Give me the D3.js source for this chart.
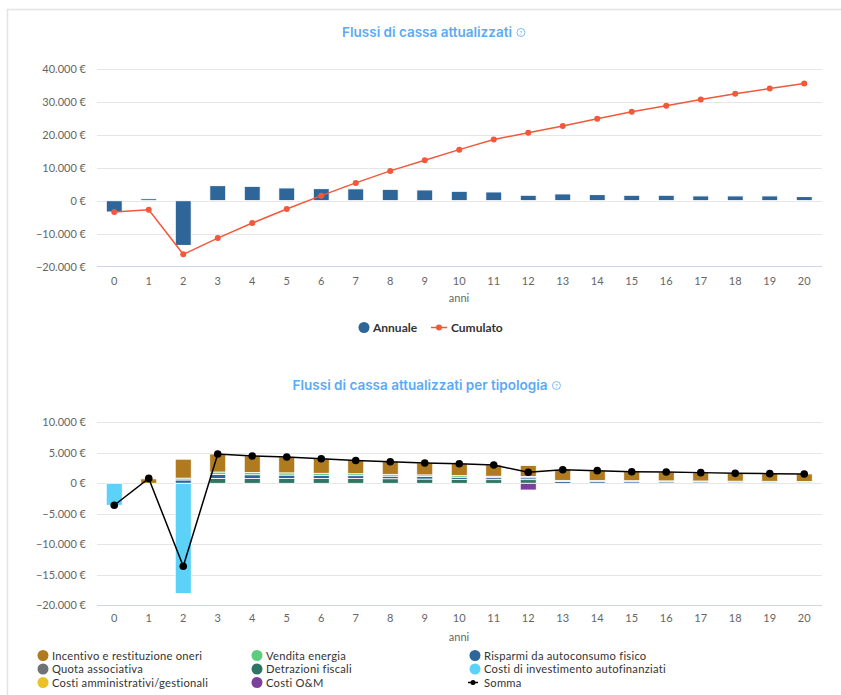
<!DOCTYPE html>
<html><head><meta charset="utf-8">
<script src="https://cdn.jsdelivr.net/npm/d3@7/dist/d3.min.js"></script>
<style>
html,body{margin:0;padding:0;background:#fff;}
svg{display:block;font-family:Lato,"Open Sans",sans-serif;}
</style></head>
<body>
<svg id="c" width="841" height="695"></svg>
<script>
// ---------- DATA ----------
const years = d3.range(0, 21).map(String);
const annuale  = [-3450, 600, -13600, 4570, 4360, 3870, 3660, 3600, 3450, 3260, 2850, 2650, 1650, 2050, 1850, 1650, 1650, 1450, 1450, 1450, 1250];
const cumulato = [-3450, -2750, -16300, -11370, -6800, -2530, 1520, 5400, 9050, 12300, 15500, 18600, 20600, 22700, 24900, 27000, 28850, 30700, 32500, 34050, 35600];

const incentivo   = [0, 720, 3100, 2950, 2700, 2600, 2400, 2200, 2100, 1950, 1950, 1850, 1800, 1750, 1600, 1470, 1450, 1370, 1280, 1250, 1220];
const vendita     = [0, 0, 300, 400, 380, 360, 340, 320, 300, 280, 260, 240, 220, 200, 190, 180, 170, 160, 150, 140, 130];
const risparmi    = [0, 0, 550, 650, 600, 550, 500, 450, 420, 400, 350, 320, 300, 280, 260, 250, 230, 220, 200, 190, 180];
const quota       = [0, 0, 0, 0, 0, 0, 0, 0, 0, 0, 0, 0, 0, 0, 0, 0, 0, 0, 0, 0, 0];
const detrazioni  = [0, 0, 0, 800, 800, 800, 800, 800, 750, 700, 650, 600, 600, 0, 0, 0, 0, 0, 0, 0, 0];
const costiInv    = [-3600, 0, -18050, 0, 0, 0, 0, 0, 0, 0, 0, 0, 0, 0, 0, 0, 0, 0, 0, 0, 0];
const costiAmm    = [0, 0, 0, 0, 0, 0, 0, 0, 0, 0, 0, 0, 0, 0, 0, 0, 0, 0, 0, 0, 0];
const costiOM     = [0, 0, 0, 0, 0, 0, 0, 0, 0, 0, 0, 0, -1100, 0, 0, 0, 0, 0, 0, 0, 0];
const somma       = [-3600, 800, -13600, 4800, 4470, 4300, 4030, 3750, 3540, 3330, 3210, 3000, 1800, 2230, 2070, 1900, 1850, 1750, 1630, 1580, 1530];

const topTicks = [-20000, -10000, 0, 10000, 20000, 30000, 40000];
const botTicks = [-20000, -15000, -10000, -5000, 0, 5000, 10000];

const title1 = "Flussi di cassa attualizzati";
const title2 = "Flussi di cassa attualizzati per tipologia";

const seriesDefs = [
  {key:"Incentivo e restituzione oneri", values: incentivo, color:"#b07a1e"},
  {key:"Vendita energia", values: vendita, color:"#5dcb80"},
  {key:"Risparmi da autoconsumo fisico", values: risparmi, color:"#2d6699"},
  {key:"Quota associativa", values: quota, color:"#6f7376"},
  {key:"Detrazioni fiscali", values: detrazioni, color:"#2f7563"},
  {key:"Costi di investimento autofinanziati", values: costiInv, color:"#5cd2f9"},
  {key:"Costi amministrativi/gestionali", values: costiAmm, color:"#e9c22a"},
  {key:"Costi O&M", values: costiOM, color:"#7b3f9c"}
];
const stackOrder = ["Detrazioni fiscali","Risparmi da autoconsumo fisico","Vendita energia","Quota associativa","Incentivo e restituzione oneri","Costi di investimento autofinanziati","Costi amministrativi/gestionali","Costi O&M"];

// ---------- HELPERS ----------
const svg = d3.select("#c");
const fmt = v => (v === 0 ? "0" : d3.format(",")(v).replace(/,/g, ".")) + " €";
const titleColor = "#5aaaf6";

svg.append("rect").attr("x", 7.5).attr("y", 9.5).attr("width", 900).attr("height", 700)
  .attr("fill", "none").attr("stroke", "#e3e3e3").attr("stroke-width", 1.5);

function title(text, cx, y) {
  const t = svg.append("text").attr("x", cx).attr("y", y).attr("text-anchor", "middle")
    .attr("font-family", "Inter, 'Noto Sans', sans-serif").attr("font-weight", 600)
    .attr("font-size", 13.5).attr("fill", titleColor).text(text);
  const w = t.node().getComputedTextLength();
  const ix = cx + w / 2 + 9;
  svg.append("circle").attr("cx", ix).attr("cy", y - 4.5).attr("r", 4)
    .attr("fill", "none").attr("stroke", titleColor).attr("stroke-width", 0.8);
  svg.append("text").attr("x", ix).attr("y", y - 2.3).attr("text-anchor", "middle")
    .attr("font-size", 6).attr("fill", titleColor).text("?");
}

const x = d3.scaleBand().domain(years).range([97, 821.5]);
const barW = 16;
const cx = d => x(d) + x.bandwidth() / 2;

function axes(y, ticks, axisY, labelY, anniY) {
  const g = svg.append("g");
  g.selectAll("line.grid").data(ticks.slice(1)).join("line")
    .attr("x1", 97).attr("x2", 822).attr("y1", d => Math.round(y(d)) + 0.5).attr("y2", d => Math.round(y(d)) + 0.5)
    .attr("stroke", "#e6e6e6");
  g.append("line").attr("x1", 97).attr("x2", 822).attr("y1", axisY).attr("y2", axisY).attr("stroke", "#ccd6eb");
  g.selectAll("text.yl").data(ticks).join("text")
    .attr("x", 86).attr("y", d => y(d) + 4).attr("text-anchor", "end")
    .attr("font-size", 11).attr("fill", "#666").text(fmt);
  g.selectAll("text.xl").data(years).join("text")
    .attr("x", d => cx(d)).attr("y", labelY).attr("text-anchor", "middle")
    .attr("font-size", 11).attr("fill", "#666").text(d => d);
  g.append("text").attr("x", 459).attr("y", anniY).attr("text-anchor", "middle")
    .attr("font-size", 11).attr("fill", "#666").text("anni");
}

// ---------- TOP CHART ----------
title(title1, 427, 37);
const y1 = d3.scaleLinear().domain([-20000, 40000]).range([266.5, 69]);
axes(y1, topTicks, 266.5, 285, 302);

svg.append("g").selectAll("rect").data(years).join("rect")
  .attr("x", d => cx(d) - barW / 2).attr("width", barW)
  .attr("y", (d, i) => y1(Math.max(0, annuale[i])))
  .attr("height", (d, i) => Math.abs(y1(annuale[i]) - y1(0)))
  .attr("fill", "#2f6699").attr("stroke", "#fff").attr("stroke-width", 1);

const line1 = d3.line().x((d, i) => cx(years[i])).y(d => y1(d));
svg.append("path").datum(cumulato).attr("d", line1).attr("fill", "none")
  .attr("stroke", "#f2583a").attr("stroke-width", 1.5);
svg.append("g").selectAll("circle").data(cumulato).join("circle")
  .attr("cx", (d, i) => cx(years[i])).attr("cy", d => y1(d)).attr("r", 3).attr("fill", "#f2583a");

// legend top
svg.append("circle").attr("cx", 364).attr("cy", 327.5).attr("r", 5.5).attr("fill", "#2f6699");
svg.append("text").attr("x", 373).attr("y", 332).attr("font-size", 12).attr("font-weight", 700).attr("fill", "#333").text("Annuale");
svg.append("line").attr("x1", 431).attr("x2", 447).attr("y1", 327.5).attr("y2", 327.5).attr("stroke", "#f2583a").attr("stroke-width", 1.5);
svg.append("circle").attr("cx", 439).attr("cy", 327.5).attr("r", 3).attr("fill", "#f2583a");
svg.append("text").attr("x", 451).attr("y", 332).attr("font-size", 12).attr("font-weight", 700).attr("fill", "#333").text("Cumulato");

// ---------- BOTTOM CHART ----------
title(title2, 420, 390);
const y2 = d3.scaleLinear().domain([-20000, 10000]).range([605.3, 422.3]);
axes(y2, botTicks, 605.5, 622, 641);

const colorOf = Object.fromEntries(seriesDefs.map(s => [s.key, s.color]));
const table = years.map((yr, i) => {
  const o = {year: yr};
  seriesDefs.forEach(s => o[s.key] = s.values[i]);
  return o;
});
const stacked = d3.stack().keys(stackOrder).offset(d3.stackOffsetDiverging)(table);
const sg = svg.append("g");
stacked.forEach(layer => {
  sg.append("g").selectAll("rect").data(layer.filter(d => d[1] !== d[0])).join("rect")
    .attr("x", d => cx(d.data.year) - barW / 2).attr("width", barW)
    .attr("y", d => y2(Math.max(d[0], d[1])))
    .attr("height", d => Math.abs(y2(d[0]) - y2(d[1])))
    .attr("fill", colorOf[layer.key]).attr("stroke", "#fff").attr("stroke-width", 0.8);
});

const line2 = d3.line().x((d, i) => cx(years[i])).y(d => y2(d));
svg.append("path").datum(somma).attr("d", line2).attr("fill", "none")
  .attr("stroke", "#000").attr("stroke-width", 1.5);
svg.append("g").selectAll("circle").data(somma).join("circle")
  .attr("cx", (d, i) => cx(years[i])).attr("cy", d => y2(d)).attr("r", 3.8).attr("fill", "#000");

// legend bottom
const legItems = seriesDefs.map(s => ({key: s.key, color: s.color, type: "dot"}));
legItems.push({key: "Somma", color: "#000", type: "line"});
const colX = [43, 257, 475], rowY = [655.5, 669, 682.5];
legItems.forEach((it, i) => {
  const c = i % 3, r = Math.floor(i / 3);
  const gx = colX[c], gy = rowY[r];
  if (it.type === "dot") {
    svg.append("circle").attr("cx", gx).attr("cy", gy).attr("r", 5.5).attr("fill", it.color);
  } else {
    svg.append("line").attr("x1", gx - 7).attr("x2", gx + 3).attr("y1", gy).attr("y2", gy).attr("stroke", "#000").attr("stroke-width", 1.5);
    svg.append("circle").attr("cx", gx - 2).attr("cy", gy).attr("r", 2.5).attr("fill", "#000");
  }
  svg.append("text").attr("x", gx + 9).attr("y", gy + 4).attr("font-size", 11.2)
    .attr("letter-spacing", 0.25).attr("fill", "#333").text(it.key);
});
</script>
</body></html>
